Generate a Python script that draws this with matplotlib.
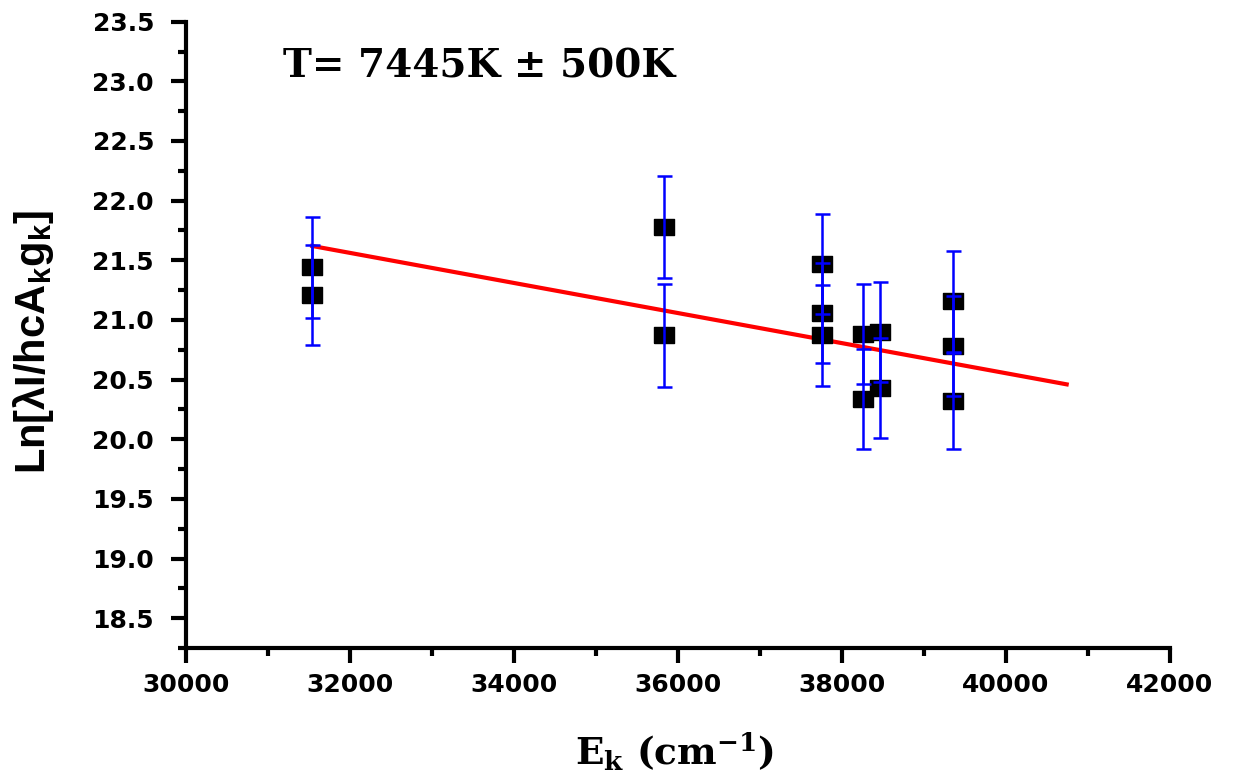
import numpy as np
import matplotlib
matplotlib.use('Agg')
import matplotlib.pyplot as plt
from matplotlib.ticker import MultipleLocator

# upper level energies (cm^-1) and Boltzmann plot ordinates
Ek = [31540, 31540, 35829, 35829, 37752, 37752, 37752,
      38260, 38260, 38463, 38463, 39350, 39350, 39350]
lnY = [21.44, 21.21, 21.78, 20.87, 21.47, 21.06, 20.87,
       20.88, 20.34, 20.90, 20.43, 21.155, 20.78, 20.32]
err = [0.42, 0.42, 0.43, 0.43, 0.42, 0.42, 0.42,
       0.42, 0.42, 0.42, 0.42, 0.42, 0.42, 0.40]

# straight line fit end points
fitX = [31540, 40740]
fitY = [21.62, 20.46]

xTicks = [30000, 32000, 34000, 36000, 38000, 40000, 42000]
yTicks = [18.5, 19.0, 19.5, 20.0, 20.5, 21.0, 21.5, 22.0, 22.5, 23.0, 23.5]

plt.rcParams['mathtext.fontset'] = 'custom'
plt.rcParams['mathtext.rm'] = 'Liberation Sans:bold'
plt.rcParams['mathtext.bf'] = 'Liberation Sans:bold'
plt.rcParams['mathtext.it'] = 'Liberation Sans:bold'

# slightly wide box marker
box = [(-1.3, -1), (1.3, -1), (1.3, 1), (-1.3, 1), (-1.3, -1)]

fig = plt.figure(figsize=(12.34, 7.8), dpi=100)
ax = fig.add_axes([186/1234, 1 - 648/780, (1170 - 186)/1234, (648 - 21.7)/780])

ax.plot(fitX, fitY, color='red', lw=3, zorder=2)
ax.plot(Ek, lnY, ls='none', marker=box, color='black', ms=15, zorder=3)
ax.errorbar(Ek, lnY, yerr=err, fmt='none', ecolor='blue', elinewidth=1.8,
            capsize=5.4, capthick=1.8, zorder=4)

ax.set_xlim(30000, 42000)
ax.set_ylim(18.25, 23.5)
ax.set_xticks(xTicks)
ax.set_yticks(yTicks)
ax.set_xticklabels([str(v) for v in xTicks])
ax.set_yticklabels(['%.1f' % v for v in yTicks])
ax.xaxis.set_minor_locator(MultipleLocator(1000))
ax.yaxis.set_minor_locator(MultipleLocator(0.25))

for s in ['top', 'right']:
    ax.spines[s].set_visible(False)
for s in ['left', 'bottom']:
    ax.spines[s].set_linewidth(3)

ax.tick_params(which='major', direction='out', length=11, width=3)
ax.tick_params(which='minor', direction='out', length=6, width=3)
ax.tick_params(axis='x', pad=7)
ax.tick_params(axis='y', pad=12)
for lab in ax.get_xticklabels() + ax.get_yticklabels():
    lab.set_fontfamily('DejaVu Sans')
    lab.set_fontweight('bold')
    lab.set_fontsize(18)

ax.text(31183, 23.03, 'T= 7445K \u00b1 500K', fontfamily='DejaVu Serif',
        fontweight='bold', fontsize=28, va='baseline', ha='left')

fig.text(34/1234, 1 - 342/780, r'Ln[$\lambda$I/hcA$_{k}$g$_{k}$]', rotation=90,
         fontfamily='Liberation Sans', fontweight='bold', fontsize=30,
         ha='center', va='center')

fig.text(675/1234, 1 - 765/780, r'E$_{\mathbf{k}}$ (cm$^{\mathbf{-1}}$)',
         fontfamily='DejaVu Serif', fontweight='bold', fontsize=27,
         math_fontfamily='dejavuserif', ha='center', va='baseline')

fig.savefig('out.png', dpi=100)
